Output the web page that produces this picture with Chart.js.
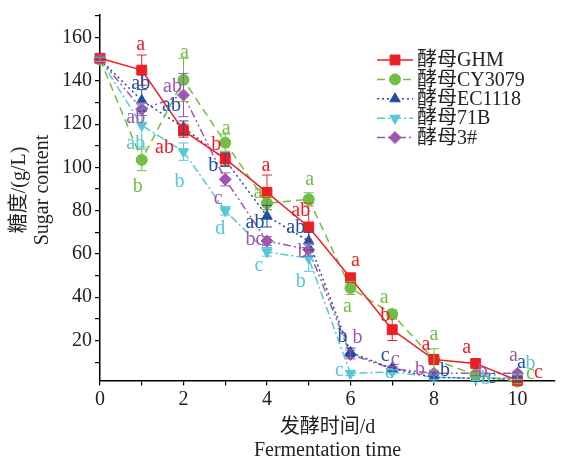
<!DOCTYPE html>
<html>
<head>
<meta charset="utf-8">
<script src="https://cdn.jsdelivr.net/npm/chart.js@4.4.1/dist/chart.umd.min.js"></script>
<style>
  html, body { margin: 0; padding: 0; background: #fff; }
  #wrap { width: 563px; height: 461px; }
</style>
</head>
<body>
<div id="wrap"><canvas id="chart"></canvas></div>
<script>
// fermentation days
const days = [0, 1, 2, 3, 4, 5, 6, 7, 8, 9, 10];

// 酵母GHM
const ghm    = [150.5, 145, 117, 104, 88.5, 72.5, 49, 25, 11.2, 9.4, 1.5];
const ghmErr = [1, 7, 3, 3, 8, 11, 1.5, 5, 2, 1, 0.5];
const ghmSig = ['', 'a', 'ab', 'b', 'a', 'ab', 'a', 'b', 'a', 'a', 'c'];

// 酵母CY3079
const cy    = [150, 103.5, 140.5, 111.5, 83.5, 85.3, 44.3, 32.2, 11.2, 4, 1];
const cyErr = [1, 5, 10, 4, 3, 3, 3, 2, 5, 1, 1];
const cySig = ['', 'b', 'a', 'a', 'a', 'a', 'a', 'a', 'a', '', 'c'];

// 酵母EC1118
const ec    = [150, 131, 118.5, 103.5, 77.5, 66, 14.5, 7, 3, 2.5, 2];
const ecErr = [1, 5, 3, 3, 5, 4, 2, 1, 1, 1, 1];
const ecSig = ['', 'ab', 'ab', 'b', 'ab', 'ab', 'b', 'c', 'b', 'c', 'a'];

// 酵母71B
const b71    = [150, 119.5, 107.3, 80, 61, 58, 4.8, 5.5, 3, 2.5, 3];
const b71Err = [1, 10, 4, 2, 2, 6, 1, 1, 1, 1, 1];
const b71Sig = ['', 'ab', 'b', 'd', 'c', 'b', 'c', 'c', '', 'b', 'b'];

// 酵母3#
const s3    = [150, 127, 133.5, 94.5, 66, 62, 13.5, 7, 4.8, 4.8, 4.8];
const s3Err = [2, 3, 10, 3, 2, 3, 2, 1, 1, 1, 1];
const s3Sig = ['', 'ab', 'ab', 'c', 'bc', 'b', 'b', 'c', 'b', 'b', 'a'];

// where each significance letter sits relative to its point (px)
const ghmOff = [[0,0],[-1,-26],[-19,16],[-9,-15],[-1,-27],[-8,-17],[5,-18],[-7,-15],[-8,-16],[-9,-16],[21,-9]];
const cyOff  = [[0,0],[-4,26],[1,-28],[1,-15],[-9,-11],[1,-20],[-3,18],[-8,-17],[0,-26],[0,0],[13,-9]];
const ecOff  = [[0,0],[-1,-17],[-12,-22],[-12,5],[-12,6],[-13,-14],[-8,-16],[-7,-14],[11,-7],[16,-1],[4,-17]];
const b71Off = [[0,0],[-6,18],[-4,29],[-5,17],[-8,13],[-8,23],[-11,-3],[-3,0],[0,0],[10,0],[13,-14]];
const s3Off  = [[0,0],[-6,8],[-11,-9],[-7,19],[-12,-2],[-6,1],[7,-18],[3,-10],[-14,-4],[7,-2],[-4,-18]];

const FONT = "'Liberation Serif', 'Times New Roman', 'Noto Sans CJK SC', serif";

function makeSeries(label, values, color, dash, style, rot, radius, errs, sig, off) {
    return {
        label: label,
        data: days.map((d, i) => ({ x: d, y: values[i] })),
        borderColor: color,
        backgroundColor: color,
        borderWidth: 1.5,
        borderDash: dash,
        pointStyle: style,
        pointRotation: rot,
        pointRadius: radius,
        pointBorderWidth: 1,
        clip: false,
        errs: errs,
        sig: sig,
        off: off
    };
}

const datasets = [
    makeSeries('酵母GHM', ghm, 'rgb(236,32,36)', [], 'rect', 0, 7, ghmErr, ghmSig, ghmOff),
    makeSeries('酵母CY3079', cy, 'rgb(112,190,68)', [8, 5], 'circle', 0, 5.5, cyErr, cySig, cyOff),
    makeSeries('酵母EC1118', ec, 'rgb(34,78,160)', [2, 3], 'triangle', 0, 6, ecErr, ecSig, ecOff),
    makeSeries('酵母71B', b71, 'rgb(84,200,212)', [8, 3, 2, 3], 'triangle', 180, 6, b71Err, b71Sig, b71Off),
    makeSeries('酵母3#', s3, 'rgb(156,88,176)', [8, 3, 2, 3, 2, 3], 'rectRot', 0, 6, s3Err, s3Sig, s3Off)
];

// error bars, letters, legend and axis titles
const extras = {
    id: 'extras',
    afterDatasetsDraw(chart) {
        const ctx = chart.ctx;
        const xs = chart.scales.x, ys = chart.scales.y;
        ctx.save();
        chart.data.datasets.forEach(ds => {
            ctx.strokeStyle = ds.borderColor;
            ctx.lineWidth = 1;
            ctx.setLineDash([]);
            ds.data.forEach((p, i) => {
                const e = ds.errs[i];
                const px = xs.getPixelForValue(p.x);
                const top = ys.getPixelForValue(p.y + e);
                const bot = ys.getPixelForValue(p.y - e);
                ctx.beginPath();
                ctx.moveTo(px, top); ctx.lineTo(px, bot);
                ctx.moveTo(px - 5, top); ctx.lineTo(px + 5, top);
                ctx.moveTo(px - 5, bot); ctx.lineTo(px + 5, bot);
                ctx.stroke();
            });
        });
        ctx.font = '20px ' + FONT;
        ctx.textAlign = 'center';
        ctx.textBaseline = 'alphabetic';
        chart.data.datasets.forEach(ds => {
            ctx.fillStyle = ds.borderColor;
            ds.data.forEach((p, i) => {
                if (!ds.sig[i]) return;
                const px = xs.getPixelForValue(p.x) + ds.off[i][0];
                const py = ys.getPixelForValue(p.y) + ds.off[i][1];
                ctx.fillText(ds.sig[i], px, py + 6);
            });
        });

        // legend
        chart.data.datasets.forEach((ds, i) => {
            const y = 60 + i * 19.4;
            ctx.strokeStyle = ds.borderColor;
            ctx.fillStyle = ds.borderColor;
            ctx.lineWidth = 1.5;
            ctx.setLineDash(ds.borderDash);
            ctx.beginPath();
            ctx.moveTo(377, y); ctx.lineTo(413, y);
            ctx.stroke();
            ctx.setLineDash([]);
            ctx.lineWidth = 1;
            Chart.helpers.drawPoint(ctx, { pointStyle: ds.pointStyle, rotation: ds.pointRotation, radius: ds.pointRadius, borderWidth: 1 }, 395, y);
            ctx.fillStyle = '#222';
            ctx.font = '20px ' + FONT;
            ctx.textAlign = 'left';
            ctx.textBaseline = 'middle';
            ctx.fillText(ds.label, 417, y + 1);
        });

        // axis titles
        ctx.fillStyle = '#222';
        ctx.font = '20px ' + FONT;
        ctx.textAlign = 'center';
        ctx.textBaseline = 'middle';
        const cx = (chart.chartArea.left + chart.chartArea.right) / 2;
        ctx.fillText('发酵时间/d', cx, 428);
        ctx.fillText('Fermentation time', cx, 451);
        ctx.translate(0, 190);
        ctx.rotate(-Math.PI / 2);
        ctx.fillText('糖度/(g/L)', 0, 20);
        ctx.fillText('Sugar content', 0, 43);
        ctx.restore();
    }
};

new Chart(document.getElementById('chart'), {
    type: 'line',
    data: { datasets: datasets },
    options: {
        responsive: true,
        maintainAspectRatio: false,
        animation: false,
        devicePixelRatio: 1,
        layout: { padding: { top: 9.7, right: 4, left: 0, bottom: 0 } },
        plugins: { legend: { display: false }, tooltip: { enabled: false } },
        scales: {
            x: {
                type: 'linear',
                min: 0,
                max: 10.9,
                afterBuildTicks: s => { s.ticks = s.ticks.filter(t => Number.isInteger(t.value)); },
                afterFit: s => { s.height = 80.5; },
                ticks: {
                    stepSize: 1,
                    includeBounds: false,
                    autoSkip: false,
                    maxRotation: 0,
                    padding: 2,
                    color: '#222',
                    font: { family: FONT, size: 20 },
                    callback: v => (v % 2 === 0 ? v : '')
                },
                grid: { drawOnChartArea: false, drawTicks: true, tickLength: 5, color: '#000', lineWidth: 1.2 },
                border: { color: '#000', width: 1.5 }
            },
            y: {
                type: 'linear',
                min: 1.5,
                max: 170.5,
                afterBuildTicks: s => { s.ticks = s.ticks.filter(t => t.value % 10 === 0); },
                afterFit: s => { s.width = 100; },
                ticks: {
                    stepSize: 10,
                    includeBounds: false,
                    autoSkip: false,
                    padding: 3,
                    color: '#222',
                    font: { family: FONT, size: 20 },
                    callback: v => (v % 20 === 0 ? v : '')
                },
                grid: { drawOnChartArea: false, drawTicks: true, tickLength: 5, color: '#000', lineWidth: 1.2 },
                border: { color: '#000', width: 1.5 }
            }
        }
    },
    plugins: [extras]
});
</script>
</body>
</html>
